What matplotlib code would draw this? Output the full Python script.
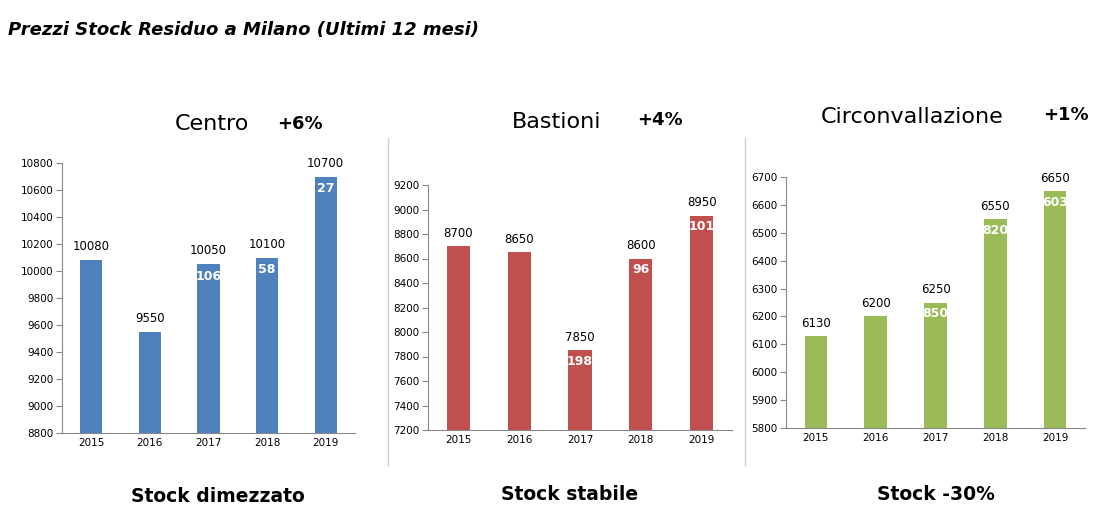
import matplotlib.pyplot as plt

years = ["2015", "2016", "2017", "2018", "2019"]
centro = [10080, 9550, 10050, 10100, 10700]
bastioni = [8700, 8650, 7850, 8600, 8950]
circ = [6130, 6200, 6250, 6550, 6650]
centro_stock = ["", "", "106", "58", "27"]
bastioni_stock = ["", "", "198", "96", "101"]
circ_stock = ["", "", "850", "820", "603"]

W, H = 1110, 523
fig = plt.figure(figsize=(W / 100, H / 100), dpi=100)

panels = [
    # values, stock, color, ylim, step, rect(px: left, top, right, bottom), title, pct, footer
    (centro, centro_stock, "#4F81BD", (8800, 10800), 200, (62, 163, 355, 433),
     "Centro", "+6%", "Stock dimezzato", (212, 124), (300, 124), (218, 497)),
    (bastioni, bastioni_stock, "#C0504D", (7200, 9200), 200, (428, 185, 732, 430),
     "Bastioni", "+4%", "Stock stabile", (557, 122), (660, 120), (570, 494)),
    (circ, circ_stock, "#9BBB59", (5800, 6700), 100, (786, 177, 1085, 428),
     "Circonvallazione", "+1%", "Stock -30%", (912, 117), (1066, 115), (936, 494)),
]

for vals, stock, col, ylim, step, rect, title, pct, foot, tpos, ppos, fpos in panels:
    l, t, r, b = rect
    ax = fig.add_axes([l / W, 1 - b / H, (r - l) / W, (b - t) / H])
    x = range(len(years))
    ax.bar(x, [v - ylim[0] for v in vals], bottom=ylim[0], width=0.38, color=col)
    ax.set_ylim(*ylim)
    ax.set_xlim(-0.5, 4.5)
    ax.set_yticks(range(ylim[0], ylim[1] + 1, step))
    ax.set_xticks(list(x))
    ax.set_xticklabels(years)
    ax.tick_params(labelsize=7.5, length=0)
    ax.tick_params(axis="y", length=4, color="#888888", pad=2)
    for s in ["top", "right"]:
        ax.spines[s].set_visible(False)
    for s in ["left", "bottom"]:
        ax.spines[s].set_color("#888888")
    ax.grid(False)
    span = ylim[1] - ylim[0]
    for i, v in enumerate(vals):
        ax.text(i, v + span * 0.025, str(v), ha="center", va="bottom", fontsize=8.5)
        if stock[i]:
            ax.text(i, v - span * 0.045, stock[i], ha="center", va="center",
                    fontsize=9, color="white", fontweight="bold")
    fig.text(tpos[0] / W, 1 - tpos[1] / H, title, ha="center", va="center", fontsize=16)
    fig.text(ppos[0] / W, 1 - ppos[1] / H, pct, ha="center", va="center",
             fontsize=13, fontweight="bold")
    fig.text(fpos[0] / W, 1 - fpos[1] / H, foot, ha="center", va="center",
             fontsize=13.5, fontweight="bold")

# separators between panels
for xs in [388, 745]:
    fig.add_artist(plt.Line2D([xs / W, xs / W], [1 - 465 / H, 1 - 138 / H],
                              color="#cccccc", lw=1))

fig.text(8 / W, 1 - 30 / H, "Prezzi Stock Residuo a Milano (Ultimi 12 mesi)",
         ha="left", va="center", fontsize=13, fontweight="bold", style="italic")

fig.savefig("out.png", dpi=100)
